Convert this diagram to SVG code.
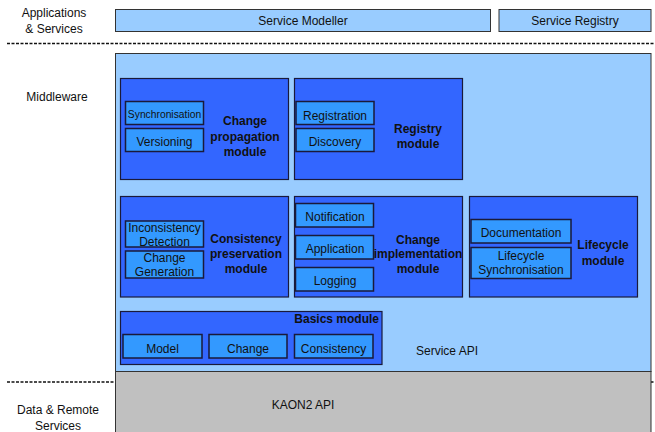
<svg xmlns="http://www.w3.org/2000/svg" width="655" height="432" viewBox="0 0 655 432">
<style>
text{font-family:"Liberation Sans",Arial,sans-serif;font-size:12px;fill:#111;text-anchor:middle}
.b{font-weight:bold}
.lt{fill:#99ccff;stroke:#333;stroke-width:1}
.mod{fill:#3366ff;stroke:#1a1a3a;stroke-width:1.2}
.sub{fill:#3399ff;stroke:#1a1a3a;stroke-width:1.5}
.gray{fill:#c0c0c0;stroke:#333;stroke-width:1}
.dash{stroke:#111;stroke-width:1.5;stroke-dasharray:3 1.5;fill:none}
</style>
<rect width="655" height="432" fill="#fff"/>
<g id="layers">
<line class="dash" x1="7" y1="43.5" x2="654" y2="43.5"/>
<line class="dash" x1="7" y1="382" x2="654" y2="382"/>
<text x="54" y="17">Applications</text>
<text x="54" y="33">&amp; Services</text>
<text x="57" y="101">Middleware</text>
<text x="58" y="414">Data &amp; Remote</text>
<text x="58" y="430">Services</text>
</g>
<g id="service-modeller"><rect class="lt" x="115.5" y="9.5" width="375" height="22"/><text x="303" y="25">Service Modeller</text></g>
<g id="service-registry"><rect class="lt" x="499" y="9.5" width="152" height="22"/><text x="575" y="25">Service Registry</text></g>
<g id="middleware"><rect class="lt" x="115.5" y="53.5" width="535.5" height="318"/><text x="447" y="355">Service API</text></g>
<g id="kaon2"><rect class="gray" x="115.5" y="371.5" width="535.5" height="62"/><text x="303" y="409">KAON2 API</text></g>
<g id="change-propagation">
<rect class="mod" x="120.5" y="78.5" width="168" height="101"/>
<text class="b" x="245" y="125">Change</text><text class="b" x="245" y="141">propagation</text><text class="b" x="245" y="156">module</text>
<rect class="sub" x="125.5" y="101.5" width="78" height="23"/><text x="164.5" y="118" style="font-size:10.3px">Synchronisation</text>
<rect class="sub" x="125.5" y="128.5" width="78" height="23"/><text x="164.5" y="146">Versioning</text>
</g>
<g id="registry">
<rect class="mod" x="294.5" y="78.5" width="168" height="101"/>
<text class="b" x="418" y="133">Registry</text><text class="b" x="418" y="148">module</text>
<rect class="sub" x="296" y="101.5" width="78" height="23"/><text x="335" y="120">Registration</text>
<rect class="sub" x="296" y="128.5" width="78" height="23"/><text x="335" y="146">Discovery</text>
</g>
<g id="consistency">
<rect class="mod" x="120.5" y="196.5" width="168" height="100.5"/>
<text class="b" x="246" y="243">Consistency</text><text class="b" x="246" y="258">preservation</text><text class="b" x="246" y="273">module</text>
<rect class="sub" x="125.5" y="221" width="78" height="26"/><text x="164.5" y="232">Inconsistency</text><text x="164.5" y="246">Detection</text>
<rect class="sub" x="125.5" y="251" width="78" height="27"/><text x="164.5" y="261.5">Change</text><text x="164.5" y="275.5">Generation</text>
</g>
<g id="change-implementation">
<rect class="mod" x="294.5" y="196.5" width="168" height="100.5"/>
<text class="b" x="418" y="244">Change</text><text class="b" x="418" y="258">implementation</text><text class="b" x="418" y="273">module</text>
<rect class="sub" x="295.5" y="203.5" width="78" height="23.5"/><text x="335" y="221">Notification</text>
<rect class="sub" x="295.5" y="235.5" width="78" height="23.5"/><text x="335" y="253">Application</text>
<rect class="sub" x="295.5" y="267.5" width="78" height="23.5"/><text x="335" y="285">Logging</text>
</g>
<g id="lifecycle">
<rect class="mod" x="469.5" y="196.5" width="168" height="100.5"/>
<text class="b" x="603" y="249">Lifecycle</text><text class="b" x="603" y="265">module</text>
<rect class="sub" x="471" y="219.5" width="100" height="23.5"/><text x="521" y="237">Documentation</text>
<rect class="sub" x="471" y="247.5" width="100" height="31"/><text x="521" y="259.5">Lifecycle</text><text x="521" y="273.5">Synchronisation</text>
</g>
<g id="basics">
<rect class="mod" x="120.5" y="311.5" width="261.5" height="53"/>
<text class="b" x="379" y="323" style="text-anchor:end">Basics module</text>
<rect class="sub" x="123" y="334.5" width="79" height="23.5"/><text x="162.5" y="353">Model</text>
<rect class="sub" x="209" y="334.5" width="78" height="23.5"/><text x="248" y="353">Change</text>
<rect class="sub" x="294.5" y="334.5" width="78.5" height="23.5"/><text x="333.5" y="353">Consistency</text>
</g>
<g id="connectors"></g>
</svg>
